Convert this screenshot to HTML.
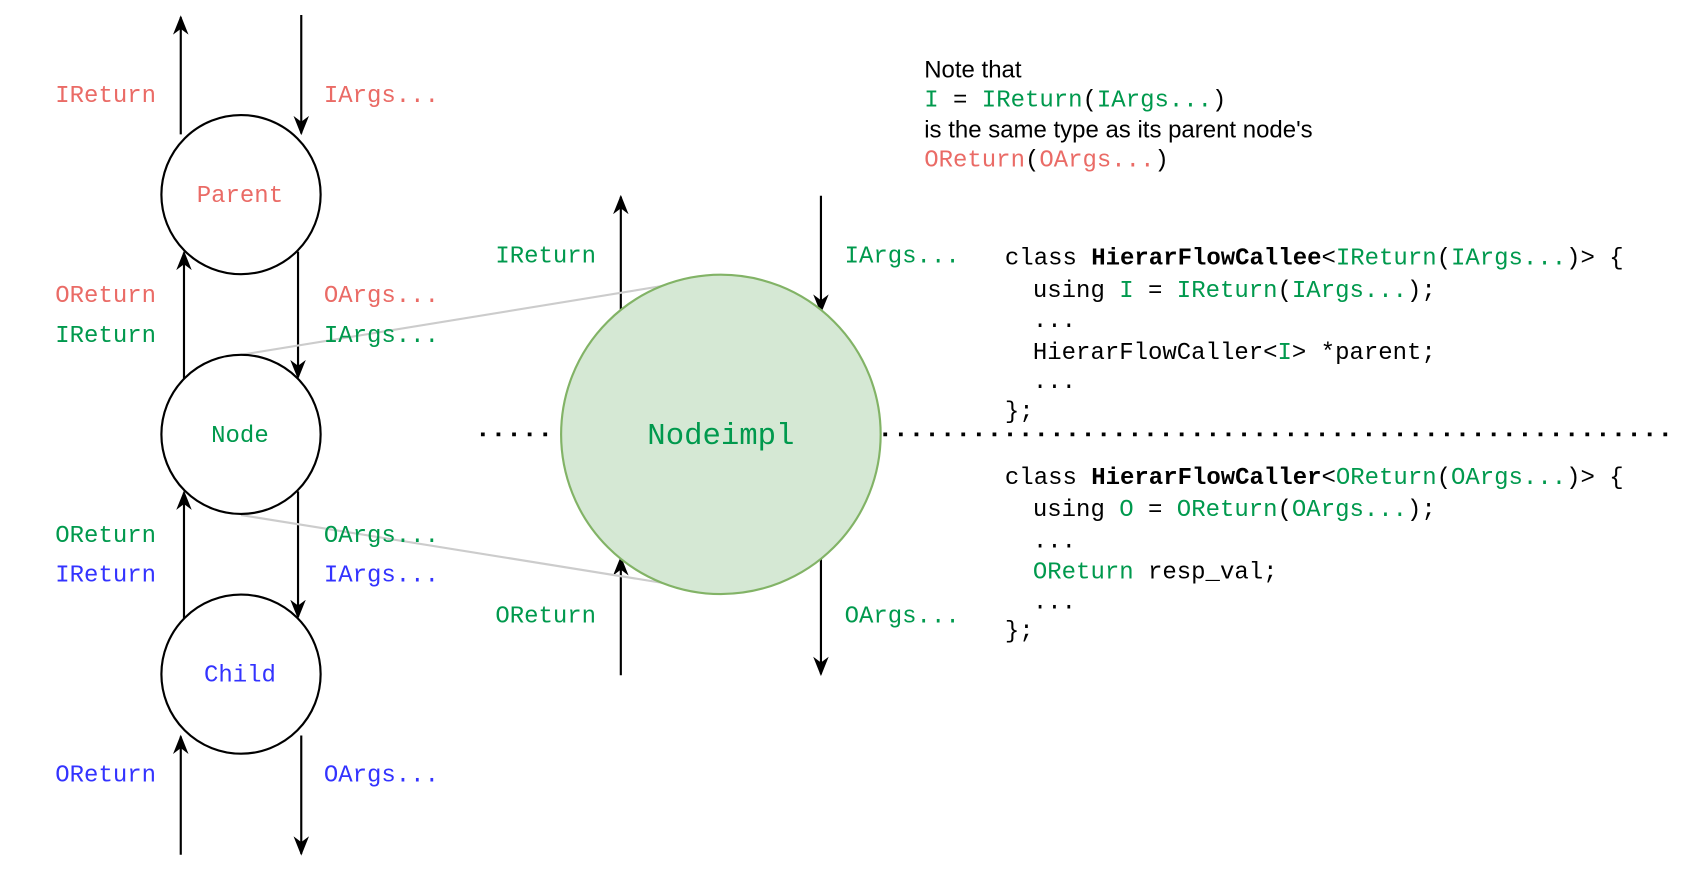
<!DOCTYPE html>
<html><head><meta charset="utf-8"><style>
html,body{margin:0;padding:0;background:#fff;}
svg{display:block;}
.m{font-family:"Liberation Mono",monospace;font-size:22.3px;}
.s{font-family:"Liberation Sans",sans-serif;font-size:22.3px;}
.r{fill:#EA6B66}.g{fill:#00994D}.b{fill:#3333FF}.k{fill:#000}
</style></head><body>
<svg width="1686" height="872" viewBox="0 0 1567 811" preserveAspectRatio="none" xmlns="http://www.w3.org/2000/svg">
<defs>
<marker id="A" viewBox="0 0 10 10" refX="9" refY="5" markerWidth="18" markerHeight="18" markerUnits="userSpaceOnUse" orient="auto"><path d="M0,1 L10,5 L0,9 L3,5 z" fill="#000"/></marker></defs>
<g stroke="#000" stroke-width="2" fill="none">
<line x1="168" y1="125" x2="168" y2="16" marker-end="url(#A)"/>
<line x1="280" y1="14" x2="280" y2="124" marker-end="url(#A)"/>
<line x1="171" y1="352" x2="171" y2="235" marker-end="url(#A)"/>
<line x1="277" y1="234" x2="277" y2="351" marker-end="url(#A)"/>
<line x1="171" y1="575" x2="171" y2="458" marker-end="url(#A)"/>
<line x1="277" y1="457" x2="277" y2="574" marker-end="url(#A)"/>
<line x1="168" y1="795" x2="168" y2="685" marker-end="url(#A)"/>
<line x1="280" y1="684" x2="280" y2="794" marker-end="url(#A)"/>
<line x1="577" y1="288" x2="577" y2="183" marker-end="url(#A)"/>
<line x1="763" y1="182" x2="763" y2="290" marker-end="url(#A)"/>
<line x1="577" y1="628" x2="577" y2="519" marker-end="url(#A)"/>
<line x1="763" y1="517" x2="763" y2="627" marker-end="url(#A)"/>
</g>
<g stroke="#ccc" stroke-width="2"><line x1="224" y1="330" x2="640" y2="262"/><line x1="224" y1="479" x2="640" y2="546"/></g>
<g stroke="#000" stroke-width="2" fill="#fff">
<circle cx="224" cy="181" r="74"/><circle cx="224" cy="404" r="74"/><circle cx="224" cy="627" r="74"/></g>
<circle cx="670" cy="404" r="148.5" fill="#d5e8d4" stroke="#82b366" stroke-width="2"/>
<g stroke="#000" stroke-width="3.5" stroke-dasharray="3.5 11"><line x1="447" y1="404" x2="515" y2="404"/><line x1="821" y1="404" x2="1556" y2="404"/></g>
<g class="m" text-anchor="middle">
<text x="223" y="188" class="r">Parent</text><text x="223" y="411" class="g">Node</text><text x="223" y="634" class="b">Child</text>
<text x="670" y="413" class="g" style="font-size:28.5px">Nodeimpl</text></g>
<g class="m" text-anchor="end">
<text x="145" y="95" class="r">IReturn</text><text x="145" y="281" class="r">OReturn</text><text x="145" y="318" class="g">IReturn</text>
<text x="145" y="504" class="g">OReturn</text><text x="145" y="541" class="b">IReturn</text><text x="145" y="727" class="b">OReturn</text>
<text x="554" y="244" class="g">IReturn</text><text x="554" y="579" class="g">OReturn</text></g>
<g class="m">
<text x="301" y="95" class="r">IArgs...</text><text x="301" y="281" class="r">OArgs...</text><text x="301" y="318" class="g">IArgs...</text>
<text x="301" y="504" class="g">OArgs...</text><text x="301" y="541" class="b">IArgs...</text><text x="301" y="727" class="b">OArgs...</text>
<text x="785" y="244" class="g">IArgs...</text><text x="785" y="579" class="g">OArgs...</text></g>
<text x="859" y="72" class="s">Note that</text>
<text x="859" y="99" class="m"><tspan class="g">I</tspan>&#160;=&#160;<tspan class="g">IReturn</tspan>(<tspan class="g">IArgs...</tspan>)</text>
<text x="859" y="128" class="s">is the same type as its parent node's</text>
<text x="859" y="155" class="m"><tspan class="r">OReturn</tspan>(<tspan class="r">OArgs...</tspan>)</text>
<g class="m">
<text x="934" y="246">class&#160;<tspan font-weight="bold">HierarFlowCallee</tspan>&lt;<tspan class="g">IReturn</tspan>(<tspan class="g">IArgs...</tspan>)&gt;&#160;{</text>
<text x="960" y="276">using&#160;<tspan class="g">I</tspan>&#160;=&#160;<tspan class="g">IReturn</tspan>(<tspan class="g">IArgs...</tspan>);</text>
<text x="960" y="304">...</text>
<text x="960" y="334">HierarFlowCaller&lt;<tspan class="g">I</tspan>&gt;&#160;*parent;</text>
<text x="960" y="361">...</text>
<text x="934" y="389">};</text>
<text x="934" y="450">class&#160;<tspan font-weight="bold">HierarFlowCaller</tspan>&lt;<tspan class="g">OReturn</tspan>(<tspan class="g">OArgs...</tspan>)&gt;&#160;{</text>
<text x="960" y="480">using&#160;<tspan class="g">O</tspan>&#160;=&#160;<tspan class="g">OReturn</tspan>(<tspan class="g">OArgs...</tspan>);</text>
<text x="960" y="509">...</text>
<text x="960" y="538"><tspan class="g">OReturn</tspan>&#160;resp_val;</text>
<text x="960" y="566">...</text>
<text x="934" y="593">};</text>
</g>
</svg>
</body></html>
